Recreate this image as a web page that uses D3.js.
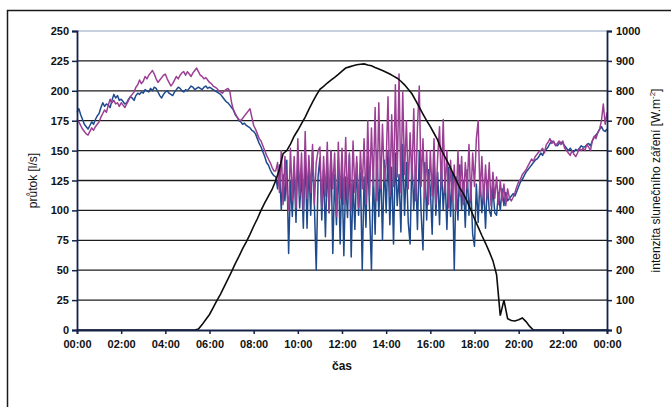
<!DOCTYPE html>
<html><head><meta charset="utf-8">
<script src="https://cdn.jsdelivr.net/npm/d3@7"></script>
<style>body{margin:0;background:#fff}svg{display:block}</style>
</head><body>
<svg id="chart" width="671" height="407"></svg>
<script>
// ---- data ----
const leftTicks = [0,25,50,75,100,125,150,175,200,225,250];
const rightTicks = [0,100,200,300,400,500,600,700,800,900,1000];
const xTickLabels = ["00:00","02:00","04:00","06:00","08:00","10:00","12:00","14:00","16:00","18:00","20:00","22:00","00:00"];
// flow, 5-minute steps from 00:00 to 24:00 (l/s)
const flowBlue = [
182,185,180,176,172,170,168,171,174,172,176,179,
181,186,190,187,189,188,186,192,197,194,196,192,
193,191,189,190,193,195,194,192,196,198,197,199,
198,201,200,199,202,200,203,202,199,196,194,197,
199,200,198,197,196,199,201,203,202,200,199,201,
200,202,204,203,201,202,203,202,201,203,204,202,
203,202,201,200,199,198,197,195,193,191,190,188,
186,184,180,178,175,174,172,173,171,170,169,167,
166,164,160,156,153,149,145,140,138,134,131,129,
128,118,138,100,130,108,142,64,125,95,136,90,
145,102,132,85,148,85,138,96,150,104,50,128,
144,92,134,78,140,98,150,64,130,88,142,72,
136,62,128,94,146,61,125,84,140,96,132,50,
128,86,145,100,50,134,80,150,95,138,75,142,
98,150,88,136,72,148,104,130,82,155,96,140,
90,72,145,100,136,84,150,98,67,140,92,134,
118,80,146,96,132,88,140,100,128,84,136,95,
132,50,128,92,138,100,125,86,134,96,120,80,
70,122,90,128,98,118,85,125,100,95,120,98,
96,115,100,118,104,115,108,110,112,114,112,116,
120,124,126,129,132,134,136,138,140,142,143,145,
148,146,150,151,153,156,158,157,155,154,156,157,
156,154,152,150,152,150,149,151,150,152,154,153,
153,155,156,154,158,161,163,165,168,170,167,166,
168];
const flowPurple = [
176,174,171,168,166,164,163,166,169,167,170,172,
174,178,181,184,182,188,193,190,192,189,190,187,
190,188,186,189,192,195,197,199,203,205,209,206,
208,212,210,213,215,217,214,210,207,209,211,213,
214,210,207,204,206,209,212,210,213,215,216,213,
216,214,212,215,217,219,216,213,212,210,211,209,
207,206,204,203,202,200,199,198,200,201,202,200,
190,184,181,178,176,175,177,179,181,183,185,178,
171,168,164,160,158,154,150,146,143,140,136,133,
133,140,115,150,105,145,118,100,152,108,145,102,
160,112,148,100,166,110,146,115,155,105,140,150,
153,102,145,112,157,98,150,118,148,95,157,110,
152,105,161,108,148,100,158,115,145,102,150,118,
160,105,175,112,169,120,186,108,190,118,172,125,
140,195,112,180,120,205,128,214,115,199,130,175,
118,165,125,185,108,170,204,120,160,110,150,105,
150,112,160,105,145,170,118,176,115,150,102,142,
108,138,100,150,112,145,105,140,118,155,108,148,
120,160,175,112,145,106,138,110,140,104,132,110,
128,105,125,108,122,104,118,110,108,111,115,120,
124,126,130,132,134,137,140,143,141,145,147,149,
150,152,148,155,157,160,156,158,154,156,158,155,
158,152,150,148,146,150,147,145,148,152,150,152,
150,155,153,150,158,162,160,165,168,175,189,172,
182];
// solar irradiance, 10-minute steps from 00:00 to 24:00 (W/m2)
const solar = [
0,0,0,0,0,0,0,0,0,0,0,0,0,0,0,0,0,0,0,0,0,0,0,0,0,0,0,0,0,0,0,0,0,
3,18,35,52,75,98,120,145,170,195,222,246,272,295,320,347,372,400,425,448,470,
500,538,590,600,622,648,668,690,712,738,762,785,805,815,826,836,845,855,
866,876,880,884,887,889,890,886,884,878,873,868,862,856,849,842,832,820,
805,790,768,745,722,700,680,658,635,602,578,555,528,502,475,455,430,402,
372,344,316,290,262,232,185,48,100,38,32,30,34,40,28,12,0,
0,0,0,0,0,0,0,0,0,0,0,0,0,0,0,0,0,0,0,0];

// ---- chart ----
const svg = d3.select("#chart");
const L = 77, R = 607, T = 31, B = 330;
const x = d3.scaleLinear().domain([0,24]).range([L,R]);
const yL = d3.scaleLinear().domain([0,250]).range([B,T]);
const yR = d3.scaleLinear().domain([0,1000]).range([B,T]);
const font = "'Liberation Sans', Arial, sans-serif";

svg.append("rect").attr("x",7.5).attr("y",10.5).attr("width",700).attr("height",500)
  .attr("fill","#fff").attr("stroke","#1a1a1a").attr("stroke-width",1.5);

// gridlines
svg.append("g").selectAll("line").data(leftTicks.filter(d=>d>0)).join("line")
  .attr("x1",L).attr("x2",R).attr("y1",d=>yL(d)).attr("y2",d=>yL(d))
  .attr("stroke",d=>d===250?"#8ea4c0":"#1c1c1c").attr("stroke-width",d=>d===250?1:1.3);

const lineFlow = d3.line().x((d,i)=>x(i/12)).y(d=>yL(d));
svg.append("path").datum(flowBlue).attr("d",lineFlow).attr("fill","none")
  .attr("stroke","#1f4a8c").attr("stroke-width",1.5).attr("stroke-linejoin","round");
svg.append("path").datum(flowPurple).attr("d",lineFlow).attr("fill","none")
  .attr("stroke","#9b3f95").attr("stroke-width",1.5).attr("stroke-linejoin","round");
const lineSolar = d3.line().x((d,i)=>x(i/6)).y(d=>yR(d));
svg.append("path").datum(solar).attr("d",lineSolar).attr("fill","none")
  .attr("stroke","#0d0d0d").attr("stroke-width",1.6);

// axes
const axL = svg.append("g").attr("transform",`translate(${L},0)`)
  .call(d3.axisLeft(yL).tickValues(leftTicks).tickSize(5).tickPadding(3));
const axR = svg.append("g").attr("transform",`translate(${R},0)`)
  .call(d3.axisRight(yR).tickValues(rightTicks).tickFormat(d3.format("d")).tickSize(5).tickPadding(4));
const axX = svg.append("g").attr("transform",`translate(0,${B})`)
  .call(d3.axisBottom(x).tickValues(d3.range(0,25,2)).tickFormat((d,i)=>xTickLabels[i]).tickSize(4).tickPadding(6));
[axL,axR,axX].forEach(a=>{
  a.select(".domain").attr("stroke","#14224a").attr("stroke-width",1.8);
  a.selectAll(".tick line").attr("stroke","#14224a").attr("stroke-width",1.5);
  a.selectAll("text").attr("font-family",font).attr("font-size",11).attr("font-weight","bold").attr("fill","#111");
});

svg.append("text").attr("transform",`translate(37,${(T+B)/2}) rotate(-90)`)
  .attr("text-anchor","middle").attr("font-family",font).attr("font-size",12).attr("fill","#111")
  .text("průtok [l/s]");
const rt = svg.append("text").attr("transform",`translate(660,${(T+B)/2}) rotate(-90)`)
  .attr("text-anchor","middle").attr("font-family",font).attr("font-size",12).attr("fill","#111");
rt.append("tspan").text("intenzita slunečního záření [W.m");
rt.append("tspan").attr("font-size",8).attr("dy",-5).text("-2");
rt.append("tspan").attr("dy",5).text("]");
svg.append("text").attr("x",x(12)).attr("y",370).attr("text-anchor","middle")
  .attr("font-family",font).attr("font-size",12).attr("font-weight","bold").attr("fill","#111").text("čas");
</script>
</body></html>
